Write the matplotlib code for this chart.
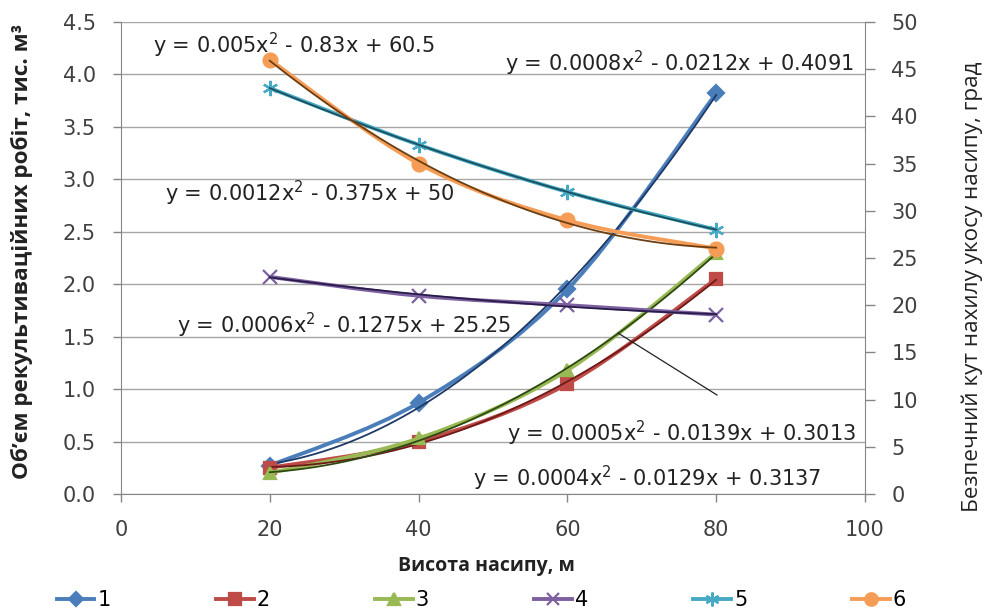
import numpy as np
import matplotlib
matplotlib.use("Agg")
import matplotlib.pyplot as plt
from matplotlib.path import Path
from matplotlib.patches import PathPatch
from matplotlib.lines import Line2D

plt.rcParams['font.family'] = ['DejaVu Sans']

# ---- data ----
heights = [20, 40, 60, 80]
s1 = [0.27, 0.87, 1.95, 3.82]   # left axis
s2 = [0.25, 0.50, 1.05, 2.05]
s3 = [0.20, 0.53, 1.18, 2.30]
s4 = [23, 21, 20, 19]           # right axis
s5 = [43, 37, 32, 28]
s6 = [46, 35, 29, 26]
series_names = ['1', '2', '3', '4', '5', '6']
eq_labels = [
    'y = 0.0008x$^2$ - 0.0212x + 0.4091',
    'y = 0.0004x$^2$ - 0.0129x + 0.3137',
    'y = 0.0005x$^2$ - 0.0139x + 0.3013',
    'y = 0.0006x$^2$ - 0.1275x + 25.25',
    'y = 0.0012x$^2$ - 0.375x + 50',
    'y = 0.005x$^2$ - 0.83x + 60.5',
]
x_ticks = [0, 20, 40, 60, 80, 100]
left_ticks = [0.0, 0.5, 1.0, 1.5, 2.0, 2.5, 3.0, 3.5, 4.0, 4.5]
right_ticks = [0, 5, 10, 15, 20, 25, 30, 35, 40, 45, 50]
x_label = 'Висота насипу, м'
left_label = 'Об’єм рекультиваційних робіт, тис. м³'
right_label = 'Безпечний кут нахилу укосу насипу, град'

colors = ['#4A7EBB', '#BE4B48', '#98B954', '#7D60A0', '#46AAC5', '#F59D56']
trend_colors = ['#1F3A66', '#6E1A18', '#2E4A12', '#2A1C4A', '#1C4F5E', '#6B3F12']
markers = ['D', 's', '^', 'x', (6, 2, 0), 'o']
msizes = [8, 9, 9, 10, 11, 10]

fig = plt.figure(figsize=(9.89, 6.15), dpi=100)
W, H = 989.0, 615.0
ax = fig.add_axes([121 / W, 1 - 494 / H, 744 / W, 472 / H])
ax2 = ax.twinx()


def smooth_path(xs, ys):
    pts = np.column_stack([xs, ys]).astype(float)
    n = len(pts)
    verts = [pts[0]]
    codes = [Path.MOVETO]
    for i in range(n - 1):
        p0 = pts[i - 1] if i > 0 else pts[i]
        p1 = pts[i]
        p2 = pts[i + 1]
        p3 = pts[i + 2] if i + 2 < n else pts[i + 1]
        c1 = p1 + (p2 - p0) / 6.0
        c2 = p2 - (p3 - p1) / 6.0
        verts += [c1, c2, p2]
        codes += [Path.CURVE4] * 3
    return Path(verts, codes)


data = [s1, s2, s3, s4, s5, s6]
handles = []
for i, ys in enumerate(data):
    a = ax if i < 3 else ax2
    patch = PathPatch(smooth_path(heights, ys), facecolor='none',
                      edgecolor=colors[i], lw=2.8, zorder=2 + i)
    a.add_patch(patch)
    mk = markers[i]
    a.plot(heights, ys, ls='none', marker=mk, ms=msizes[i],
           mec=colors[i], mfc=colors[i], mew=1.6, zorder=3 + i)
    # polynomial trendline
    coef = np.polyfit(heights, ys, 2)
    xx = np.linspace(heights[0], heights[-1], 200)
    a.plot(xx, np.polyval(coef, xx), color=trend_colors[i], lw=1.3, zorder=4 + i)
    handles.append(Line2D([0], [0], color=colors[i], lw=2.8, marker=mk,
                          ms=msizes[i] - 1, mec=colors[i], mfc=colors[i], mew=1.6))

ax.set_xlim(0, 100)
ax.set_ylim(0, 4.5)
ax2.set_ylim(0, 50)
ax.set_xticks(x_ticks)
ax.set_yticks(left_ticks)
ax.set_yticklabels([f'{v:.1f}' for v in left_ticks])
ax2.set_yticks(right_ticks)
ax.grid(axis='y', color='#A6A6A6', lw=1.0)
ax.set_axisbelow(True)

for a in (ax, ax2):
    a.spines['top'].set_visible(False)
    for s in ('left', 'right', 'bottom'):
        a.spines[s].set_color('#868686')
ax.spines['right'].set_visible(False)
ax2.spines['left'].set_visible(False)
ax2.spines['bottom'].set_visible(False)

TICK_FS = 15
ax.tick_params(axis='both', labelsize=TICK_FS, colors='#868686', labelcolor='#404040',
               length=6, width=1)
ax2.tick_params(axis='y', labelsize=TICK_FS, colors='#868686', labelcolor='#404040',
                length=7, width=1)
ax.tick_params(axis='x', pad=13)
ax.tick_params(axis='y', pad=12)
ax2.tick_params(axis='y', pad=12)

fig.text(486 / W, 1 - 566 / H, x_label, fontsize=14, fontweight='bold',
         family='Open Sans', color='#222222', ha='center', va='center')
fig.text(22 / W, 1 - 251 / H, left_label, fontsize=16.2, fontweight='bold',
         family='Open Sans', color='#222222', ha='center', va='center', rotation=90)
fig.text(972 / W, 1 - 287 / H, right_label, fontsize=16.2, family='Open Sans',
         color='#222222', ha='center', va='center', rotation=90)

# trendline equation labels (left-axis data coords)
label_pos = [(51.6, 4.11), (47.3, 0.15), (51.9, 0.58), (7.5, 1.61), (5.9, 2.87), (4.3, 4.28)]
for (lx, ly), txt in zip(label_pos, eq_labels):
    ax.text(lx, ly, txt, fontsize=15, color='#222222', va='center', ha='left', zorder=20)

# leader line
ax.plot([66.8, 80.1], [1.535, 0.944], color='#222222', lw=0.9, zorder=20)

fig.legend(handles, series_names, loc='center', bbox_to_anchor=(0.4870, 0.0244),
           ncol=6, frameon=False, fontsize=15, handlelength=1.8, handletextpad=0.15,
           columnspacing=5.05)

fig.savefig('out.png', dpi=100)
